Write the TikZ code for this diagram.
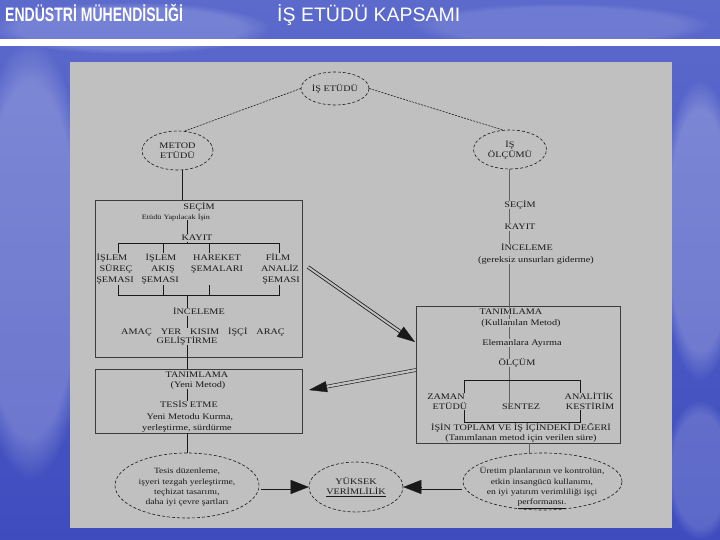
\documentclass[tikz,border=0pt]{standalone}
\usepackage{fontspec}
\setmainfont{Liberation Serif}[FakeStretch=1.2]
\newfontfamily\hdrfont{Liberation Sans}
\newfontfamily\hdrnarrow{Liberation Sans}[FakeStretch=0.72]
\usetikzlibrary{shapes.geometric,arrows.meta,calc,fadings}
\definecolor{panel}{RGB}{192,192,192}
\definecolor{ink}{RGB}{25,25,25}
\definecolor{skyA}{RGB}{92,106,204}
\definecolor{skyB}{RGB}{62,76,190}
\tikzset{
 lbl/.style={inner sep=0.6pt, text=ink, font=\fontsize{8.5}{9}\selectfont, text height=5.8pt, text depth=0pt},
 small/.style={lbl, font=\fontsize{6.8}{7}\selectfont},
 oval/.style={ellipse, draw=ink, line width=0.6pt, dash pattern=on 3pt off 2pt, inner sep=0pt, align=center, text=ink, font=\fontsize{8.5}{10}\selectfont},
 etext/.style={inner sep=0pt, align=center, text=ink, font=\fontsize{8}{10.3}\selectfont},
 framebox/.style={draw=ink!85, line width=0.8pt, inner sep=0pt},
 conn/.style={draw=ink, line width=0.8pt},
 rconn/.style={draw=black!62, line width=1.2pt},
 thinl/.style={draw=ink, line width=0.6pt},
 hollow/.style={draw=ink, line width=0.8pt, double=panel, double distance=2pt},
 twin/.style={draw=ink, line width=0.6pt, double=panel, double distance=2.4pt},
 twinwide/.style={draw=ink, line width=0.7pt, double=panel, double distance=3.6pt},
 tipstyle/.style={draw=ink, fill=ink, line width=0.3pt},
 cloud/.style={white, path fading=circle with fuzzy edge 20 percent}
}
\begin{document}
\begin{tikzpicture}[x=1pt,y=-1pt]
\useasboundingbox (0,0) rectangle (720,540);
% background sky
\shade[top color=skyA, bottom color=skyB] (0,0) rectangle (720,540);
\fill[cloud, opacity=0.22] (30,260) ellipse (60 and 220);
\fill[cloud, opacity=0.16] (130,28) ellipse (140 and 26);
\fill[cloud, opacity=0.12] (560,25) ellipse (150 and 22);
\fill[cloud, opacity=0.22] (700,230) ellipse (40 and 150);
\fill[cloud, opacity=0.16] (700,470) ellipse (35 and 70);
\fill[white] (0,39.5) rectangle (720,46.5);
\fill[panel] (70,62.5) rectangle (672,528);
% header
\node[anchor=base west, inner sep=0, text=white, font=\hdrnarrow\bfseries\fontsize{19.5}{20}\selectfont] (h1) at (5,22) {ENDÜSTRİ MÜHENDİSLİĞİ};
\node[anchor=base west, inner sep=0, text=white, font=\hdrfont\fontsize{19.5}{20}\selectfont] (h2) at (277,22) {İŞ ETÜDÜ KAPSAMI};

% helper coordinates
\coordinate (lc) at (187,0);
\coordinate (rc) at (509.5,0);

% ellipses
\node[oval, minimum width=68pt, minimum height=33pt] (ise) at (335,88.5) {İŞ ETÜDÜ};
\node[oval, minimum width=71pt, minimum height=39pt] (metod) at (177.5,150.5) {METOD\\ETÜDÜ};
\node[oval, minimum width=73pt, minimum height=39pt] (olcum) at (510,149.5) {İŞ\\ÖLÇÜMÜ};
\draw[thinl, dash pattern=on 2pt off 1.2pt] (ise.west) -- (metod.70);
\draw[thinl, dash pattern=on 2pt off 1.2pt] (ise.east) -- (olcum.110);

% boxes
\node[framebox, minimum width=207pt, minimum height=157pt] (lb1) at (198.5,278.5) {};
\node[framebox, minimum width=207pt, minimum height=64pt] (lb2) at (198.5,401) {};
\node[framebox, minimum width=204pt, minimum height=137pt] (rb) at (518,374.5) {};

% left box 1 texts
\node[lbl] (lsec) at (199,207) {SEÇİM};
\node[small] (lety) at (176,216.5) {Etüdü Yapılacak İşin};
\node[lbl] (lkay) at (197,238) {KAYIT};
\node[lbl] (c1a) at (112,258) {İŞLEM};
\node[lbl] (c1b) at (116,269) {SÜREÇ};
\node[lbl] (c1c) at (115,280) {ŞEMASI};
\node[lbl] (c2a) at (161,258) {İŞLEM};
\node[lbl] (c2b) at (163,269) {AKIŞ};
\node[lbl] (c2c) at (160,280) {ŞEMASI};
\node[lbl] (c3a) at (217,258) {HAREKET};
\node[lbl] (c3b) at (217,269) {ŞEMALARI};
\node[lbl] (c4a) at (278,258) {FİLM};
\node[lbl] (c4b) at (280,269) {ANALİZ};
\node[lbl] (c4c) at (281,280) {ŞEMASI};
\node[lbl] (lince) at (199,312) {İNCELEME};
\node[lbl] (lamac) at (203,332) {AMAÇ\hspace{9pt}YER\hspace{9pt}KISIM\hspace{9pt}İŞÇİ\hspace{9pt}ARAÇ};
\node[lbl] (lgel) at (187,341) {GELİŞTİRME};

% left box 2 texts
\node[lbl] (l2tan) at (197,375) {TANIMLAMA};
\node[lbl] (l2yen) at (198,385) {(Yeni Metod)};
\node[lbl] (l2tes) at (189,405) {TESİS ETME};
\node[lbl] (l2kur) at (190,417) {Yeni Metodu Kurma,};
\node[lbl] (l2yer) at (187,428) {yerleştirme, sürdürme};

% right column texts
\node[lbl] (rsec) at (520,205) {SEÇİM};
\node[lbl] (rkay) at (520,227) {KAYIT};
\node[lbl] (rince) at (527,248) {İNCELEME};
\node[lbl] (rger) at (536,260) {(gereksiz unsurları giderme)};

% right box texts
\node[lbl] (rtan) at (511,311.5) {TANIMLAMA};
\node[lbl] (rkul) at (521,323) {(Kullanılan Metod)};
\node[lbl] (relem) at (522,343) {Elemanlara Ayırma};
\node[lbl] (rolc) at (517,363) {ÖLÇÜM};
\node[lbl] (rzam) at (446,397) {ZAMAN};
\node[lbl] (ret) at (450,407) {ETÜDÜ};
\node[lbl] (rsen) at (521,407) {SENTEZ};
\node[lbl] (rana) at (589,397) {ANALİTİK};
\node[lbl] (rkes) at (590,407) {KESTİRİM};
\node[lbl] (rtop) at (521,428) {İŞİN TOPLAM VE İŞ İÇİNDEKİ DEĞERİ};
\node[lbl] (rsur) at (521,438) {(Tanımlanan metod için verilen süre)};

% bottom ellipses
\node[oval, minimum width=144pt, minimum height=65pt] (bl) at (187,485.5) {};
\node[etext] (blt) at (187,487.5) {Tesis düzenleme,\\işyeri tezgah yerleştirme,\\teçhizat tasarımı,\\daha iyi çevre şartları};
\node[oval, minimum width=94pt, minimum height=50pt] (yv) at (356,487) {YÜKSEK\\\underline{VERİMLİLİK}};
\node[oval, minimum width=159pt, minimum height=57pt] (br) at (542.5,481.5) {};
\node[etext] (brt) at (542,488) {Üretim planlarının ve kontrolün,\\etkin insangücü kullanımı,\\en iyi yatırım verimliliği işçi\\\underline{performansı.}};

% left column connectors
\coordinate (mb) at (metod.-75);
\draw[conn] (mb) -- (mb |- lb1.north);
\draw[conn] (lety.south -| lc) -- (lkay.north -| lc);
\coordinate (tb1) at (118,243);
\coordinate (tb2) at (163,243);
\coordinate (tb3) at (209,243);
\coordinate (tb4) at (279,243);
\coordinate (bb1) at (118,295);
\coordinate (bb2) at (163,295);
\coordinate (bb3) at (209,295);
\coordinate (bb4) at (279,295);
\draw[conn] (lkay.south -| lc) -- (lc |- tb1);
\draw[thinl] ($(tb1)+(0,10)$) -- (tb1) -- (tb4) -- ($(tb4)+(0,10)$);
\draw[thinl] (tb2) -- ($(tb2)+(0,10)$);
\draw[thinl] (tb3) -- ($(tb3)+(0,10)$);
\draw[thinl] ($(bb1)+(0,-10)$) -- (bb1) -- (bb4) -- ($(bb4)+(0,-10)$);
\draw[thinl] (bb2) -- ($(bb2)+(0,-10)$);
\draw[thinl] (bb3) -- ($(bb3)+(0,-10)$);
\draw[conn] (lc |- bb1) -- (lince.north -| lc);
\draw[conn] (lince.south -| lc) -- (lamac.north -| lc);
\draw[conn] (lgel.south -| lc) -- (lb2.north -| lc);
\draw[conn] (l2yen.south -| lc) -- (l2tes.north -| lc);
\draw[conn] (lb2.south -| lc) -- (bl.north);

% right column connectors
\draw[rconn] (olcum.south -| rc) -- (rsec.north -| rc);
\draw[rconn] (rsec.south -| rc) -- (rkay.north -| rc);
\draw[rconn] (rkay.south -| rc) -- (rince.north -| rc);
\draw[rconn] (rger.south -| rc) -- (rb.north -| rc);
\draw[rconn] (rb.north -| rc) -- (rtan.north -| rc);
\draw[rconn] (rtan.south -| rc) -- (rkul.north -| rc);
\draw[rconn] (rkul.south -| rc) -- (relem.north -| rc);
\draw[rconn] (relem.south -| rc) -- (rolc.north -| rc);
\draw[rconn] (rolc.south -| rc) -- (rsen.north -| rc);
\coordinate (rt1) at (464,380);
\coordinate (rt2) at (580,380);
\coordinate (rd1) at (464,422);
\coordinate (rd2) at (580,422);
\draw[thinl] ($(rt1)+(0,13)$) -- (rt1) -- (rt2) -- ($(rt2)+(0,13)$);
\draw[thinl] ($(rd1)+(0,-12)$) -- (rd1) -- (rd2) -- ($(rd2)+(0,-12)$);
\coordinate (brt0) at (br.114);
\draw[rconn] (rb.south -| brt0) -- (brt0);

% big arrows
\coordinate (a1s) at (308,267);
\coordinate (a1e) at (415,342);
\coordinate (a2s) at (416,370);
\coordinate (a2e) at (309,390);
\draw[hollow, shorten >=12pt] (a1s) -- (a1e);
\draw[tipstyle, arrows={-Triangle[length=18pt,width=12pt]}] ($(a1e)!18pt!(a1s)$) -- (a1e);
\draw[twin, shorten >=12pt] (a2s) -- (a2e);
\draw[tipstyle, arrows={-Triangle[length=18pt,width=11pt]}] ($(a2e)!18pt!(a2s)$) -- (a2e);

% bottom arrows
\coordinate (ba1) at (bl.east |- yv.west);
\coordinate (ba2) at (br.west |- yv.east);
\draw[twinwide, shorten <=2pt, shorten >=12pt] (ba1) -- (yv.west);
\draw[tipstyle, arrows={-Triangle[length=18pt,width=14pt]}] ($(yv.west)+(-18,0)$) -- (yv.west);
\draw[twinwide, shorten <=1pt, shorten >=12pt] (ba2) -- (yv.east);
\draw[tipstyle, arrows={-Triangle[length=18pt,width=14pt]}] ($(yv.east)+(18,0)$) -- (yv.east);
\end{tikzpicture}
\end{document}
